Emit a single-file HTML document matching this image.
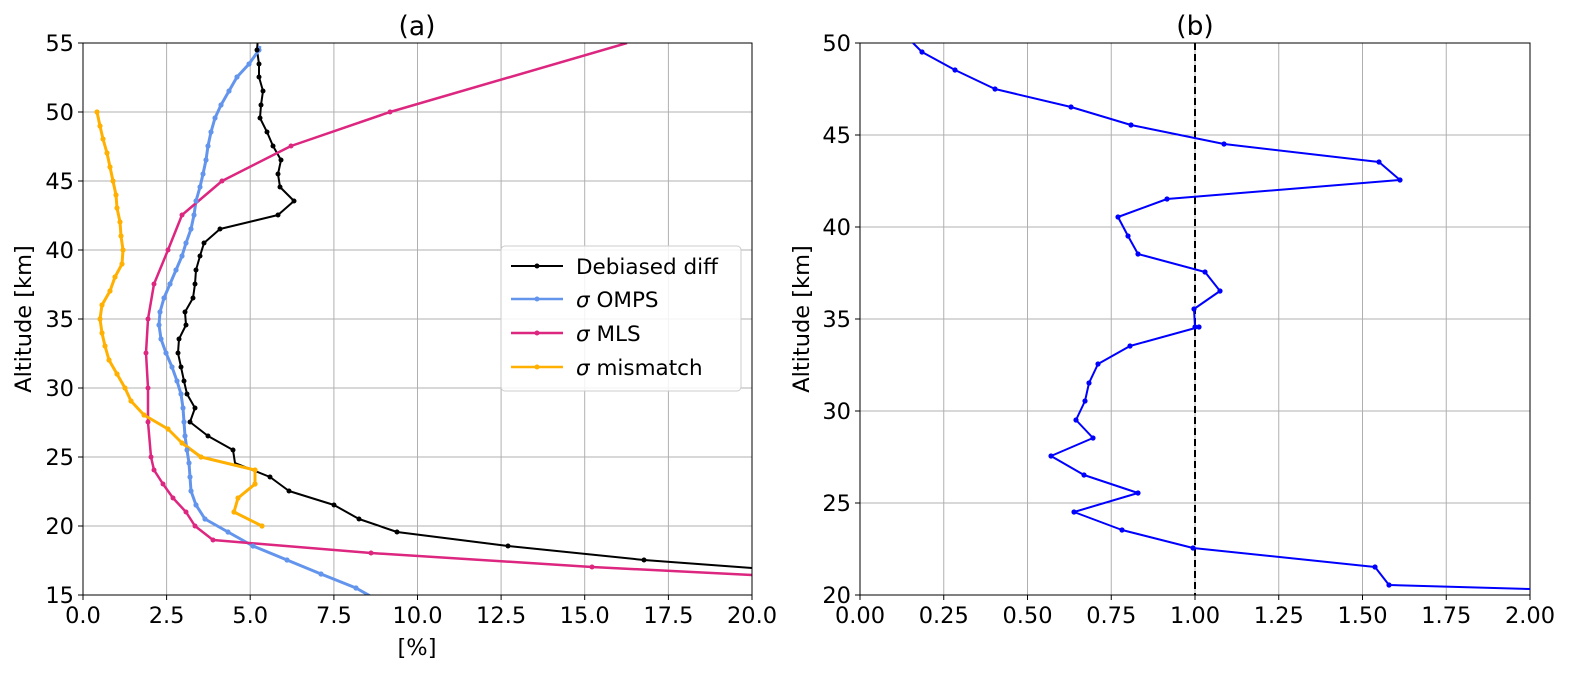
<!DOCTYPE html><html><head><style>html,body{margin:0;padding:0;background:#fff;overflow:hidden}svg{display:block}text{font-family:"DejaVu Sans","Liberation Sans",sans-serif;fill:#000}</style></head><body>
<svg width="1583" height="673" viewBox="0 0 1583 673">
<defs>
<clipPath id="ca"><rect x="83" y="43" width="669" height="552"/></clipPath>
<clipPath id="cb"><rect x="860" y="43" width="670" height="552"/></clipPath>
</defs>
<g stroke="#b0b0b0" stroke-width="1">
<line x1="83" y1="43" x2="83" y2="595"/><line x1="166.6" y1="43" x2="166.6" y2="595"/><line x1="250.2" y1="43" x2="250.2" y2="595"/><line x1="333.9" y1="43" x2="333.9" y2="595"/><line x1="417.5" y1="43" x2="417.5" y2="595"/><line x1="501.1" y1="43" x2="501.1" y2="595"/><line x1="584.7" y1="43" x2="584.7" y2="595"/><line x1="668.4" y1="43" x2="668.4" y2="595"/>
<line x1="83" y1="112" x2="752" y2="112"/><line x1="83" y1="181" x2="752" y2="181"/><line x1="83" y1="250" x2="752" y2="250"/><line x1="83" y1="319" x2="752" y2="319"/><line x1="83" y1="388" x2="752" y2="388"/><line x1="83" y1="457" x2="752" y2="457"/><line x1="83" y1="526" x2="752" y2="526"/>
<line x1="943.75" y1="43" x2="943.75" y2="595"/><line x1="1027.5" y1="43" x2="1027.5" y2="595"/><line x1="1111.25" y1="43" x2="1111.25" y2="595"/><line x1="1195" y1="43" x2="1195" y2="595"/><line x1="1278.75" y1="43" x2="1278.75" y2="595"/><line x1="1362.5" y1="43" x2="1362.5" y2="595"/><line x1="1446.25" y1="43" x2="1446.25" y2="595"/>
<line x1="860" y1="135" x2="1530" y2="135"/><line x1="860" y1="227" x2="1530" y2="227"/><line x1="860" y1="319" x2="1530" y2="319"/><line x1="860" y1="411" x2="1530" y2="411"/><line x1="860" y1="503" x2="1530" y2="503"/>
</g>
<g clip-path="url(#ca)" fill="none" stroke-linejoin="round">
<polyline stroke="#000" stroke-width="2" points="258,38 257,50 259,64 259,77 263,91 261,105 260,118 267,132 273,146 281,160 278,174 280,187 294,201 278,215 220,229 204,243 200,256 196,270 195,284 193,298 185,312 186,325 179,339 178,353 181,367 184,381 187,394 195,408 190,422 208,436 233,450 235,463 270,477 289,491 334,505 359,519 397,532 508,546 644,560 752,568"/>
<polyline stroke="#6495ed" stroke-width="3" points="260,46 259,50 249,64 237,77 229,91 221,105 215,118 211,132 208,146 206,160 203,174 200,187 196,201 194,215 191,229 186,243 182,256 176,270 170,284 164,298 160,312 159,325 161,339 166,353 172,367 177,381 181,394 183,408 184,422 185,436 187,450 189,463 190,477 191,491 196,505 205,519 228,532 253,546 287,560 321,574 356,588 372,597"/>
<polyline stroke="#dc267f" stroke-width="2.5" points="627,43 390,112 291,146 222,181 182,215 168,250 154,284 148,319 146,353 148,388 148,422 151,457 154,470 163,484 173,498 186,512 195,526 213,540 371,553 592,567 752,575"/>
<polyline stroke="#ffb000" stroke-width="3" points="97,112 100,126 103,139 107,153 110,167 113,181 116,195 117,208 120,222 121,236 123,250 122,264 115,277 110,291 102,305 100,319 102,333 105,346 109,360 117,374 125,388 131,401 144,415 168,429 182,443 201,457 255,470 255,484 238,498 234,512 262,526"/>
</g>
<g clip-path="url(#ca)">
<g fill="#6495ed"><circle cx="259" cy="50" r="2.6"/><circle cx="249" cy="64" r="2.6"/><circle cx="237" cy="77" r="2.6"/><circle cx="229" cy="91" r="2.6"/><circle cx="221" cy="105" r="2.6"/><circle cx="215" cy="118" r="2.6"/><circle cx="211" cy="132" r="2.6"/><circle cx="208" cy="146" r="2.6"/><circle cx="206" cy="160" r="2.6"/><circle cx="203" cy="174" r="2.6"/><circle cx="200" cy="187" r="2.6"/><circle cx="196" cy="201" r="2.6"/><circle cx="194" cy="215" r="2.6"/><circle cx="191" cy="229" r="2.6"/><circle cx="186" cy="243" r="2.6"/><circle cx="182" cy="256" r="2.6"/><circle cx="176" cy="270" r="2.6"/><circle cx="170" cy="284" r="2.6"/><circle cx="164" cy="298" r="2.6"/><circle cx="160" cy="312" r="2.6"/><circle cx="159" cy="325" r="2.6"/><circle cx="161" cy="339" r="2.6"/><circle cx="166" cy="353" r="2.6"/><circle cx="172" cy="367" r="2.6"/><circle cx="177" cy="381" r="2.6"/><circle cx="181" cy="394" r="2.6"/><circle cx="183" cy="408" r="2.6"/><circle cx="184" cy="422" r="2.6"/><circle cx="185" cy="436" r="2.6"/><circle cx="187" cy="450" r="2.6"/><circle cx="189" cy="463" r="2.6"/><circle cx="190" cy="477" r="2.6"/><circle cx="191" cy="491" r="2.6"/><circle cx="196" cy="505" r="2.6"/><circle cx="205" cy="519" r="2.6"/><circle cx="228" cy="532" r="2.6"/><circle cx="253" cy="546" r="2.6"/><circle cx="287" cy="560" r="2.6"/><circle cx="321" cy="574" r="2.6"/><circle cx="356" cy="588" r="2.6"/></g>
<g fill="#ffb000"><circle cx="97" cy="112" r="2.6"/><circle cx="100" cy="126" r="2.6"/><circle cx="103" cy="139" r="2.6"/><circle cx="107" cy="153" r="2.6"/><circle cx="110" cy="167" r="2.6"/><circle cx="113" cy="181" r="2.6"/><circle cx="116" cy="195" r="2.6"/><circle cx="117" cy="208" r="2.6"/><circle cx="120" cy="222" r="2.6"/><circle cx="121" cy="236" r="2.6"/><circle cx="123" cy="250" r="2.6"/><circle cx="122" cy="264" r="2.6"/><circle cx="115" cy="277" r="2.6"/><circle cx="110" cy="291" r="2.6"/><circle cx="102" cy="305" r="2.6"/><circle cx="100" cy="319" r="2.6"/><circle cx="102" cy="333" r="2.6"/><circle cx="105" cy="346" r="2.6"/><circle cx="109" cy="360" r="2.6"/><circle cx="117" cy="374" r="2.6"/><circle cx="125" cy="388" r="2.6"/><circle cx="131" cy="401" r="2.6"/><circle cx="144" cy="415" r="2.6"/><circle cx="168" cy="429" r="2.6"/><circle cx="182" cy="443" r="2.6"/><circle cx="201" cy="457" r="2.6"/><circle cx="255" cy="470" r="2.6"/><circle cx="255" cy="484" r="2.6"/><circle cx="238" cy="498" r="2.6"/><circle cx="234" cy="512" r="2.6"/><circle cx="262" cy="526" r="2.6"/></g>
<g fill="#000"><circle cx="257" cy="50" r="2.5"/><circle cx="259" cy="64" r="2.5"/><circle cx="259" cy="77" r="2.5"/><circle cx="263" cy="91" r="2.5"/><circle cx="261" cy="105" r="2.5"/><circle cx="260" cy="118" r="2.5"/><circle cx="267" cy="132" r="2.5"/><circle cx="273" cy="146" r="2.5"/><circle cx="281" cy="160" r="2.5"/><circle cx="278" cy="174" r="2.5"/><circle cx="280" cy="187" r="2.5"/><circle cx="294" cy="201" r="2.5"/><circle cx="278" cy="215" r="2.5"/><circle cx="220" cy="229" r="2.5"/><circle cx="204" cy="243" r="2.5"/><circle cx="200" cy="256" r="2.5"/><circle cx="196" cy="270" r="2.5"/><circle cx="195" cy="284" r="2.5"/><circle cx="193" cy="298" r="2.5"/><circle cx="185" cy="312" r="2.5"/><circle cx="186" cy="325" r="2.5"/><circle cx="179" cy="339" r="2.5"/><circle cx="178" cy="353" r="2.5"/><circle cx="181" cy="367" r="2.5"/><circle cx="184" cy="381" r="2.5"/><circle cx="187" cy="394" r="2.5"/><circle cx="195" cy="408" r="2.5"/><circle cx="190" cy="422" r="2.5"/><circle cx="208" cy="436" r="2.5"/><circle cx="233" cy="450" r="2.5"/><circle cx="270" cy="477" r="2.5"/><circle cx="289" cy="491" r="2.5"/><circle cx="334" cy="505" r="2.5"/><circle cx="359" cy="519" r="2.5"/><circle cx="397" cy="532" r="2.5"/><circle cx="508" cy="546" r="2.5"/><circle cx="644" cy="560" r="2.5"/></g>
<g fill="#dc267f"><circle cx="390" cy="112" r="2.5"/><circle cx="291" cy="146" r="2.5"/><circle cx="222" cy="181" r="2.5"/><circle cx="182" cy="215" r="2.5"/><circle cx="168" cy="250" r="2.5"/><circle cx="154" cy="284" r="2.5"/><circle cx="148" cy="319" r="2.5"/><circle cx="146" cy="353" r="2.5"/><circle cx="148" cy="388" r="2.5"/><circle cx="148" cy="422" r="2.5"/><circle cx="151" cy="457" r="2.5"/><circle cx="154" cy="470" r="2.5"/><circle cx="163" cy="484" r="2.5"/><circle cx="173" cy="498" r="2.5"/><circle cx="186" cy="512" r="2.5"/><circle cx="195" cy="526" r="2.5"/><circle cx="213" cy="540" r="2.5"/><circle cx="371" cy="553" r="2.5"/><circle cx="592" cy="567" r="2.5"/></g>
</g>
<g fill="none" stroke="#000" stroke-width="1">
<rect x="83" y="43" width="669" height="552"/><rect x="860" y="43" width="670" height="552"/>
</g>
<g stroke="#000" stroke-width="1">
<line x1="83" y1="595" x2="83" y2="600"/><line x1="166.6" y1="595" x2="166.6" y2="600"/><line x1="250.2" y1="595" x2="250.2" y2="600"/><line x1="333.9" y1="595" x2="333.9" y2="600"/><line x1="417.5" y1="595" x2="417.5" y2="600"/><line x1="501.1" y1="595" x2="501.1" y2="600"/><line x1="584.7" y1="595" x2="584.7" y2="600"/><line x1="668.4" y1="595" x2="668.4" y2="600"/><line x1="752" y1="595" x2="752" y2="600"/>
<line x1="78" y1="43" x2="83" y2="43"/><line x1="78" y1="112" x2="83" y2="112"/><line x1="78" y1="181" x2="83" y2="181"/><line x1="78" y1="250" x2="83" y2="250"/><line x1="78" y1="319" x2="83" y2="319"/><line x1="78" y1="388" x2="83" y2="388"/><line x1="78" y1="457" x2="83" y2="457"/><line x1="78" y1="526" x2="83" y2="526"/><line x1="78" y1="595" x2="83" y2="595"/>
</g>
<g font-size="22.5" text-anchor="middle">
<text x="83" y="623">0.0</text><text x="166.6" y="623">2.5</text><text x="250.2" y="623">5.0</text><text x="333.9" y="623">7.5</text><text x="417.5" y="623">10.0</text><text x="501.1" y="623">12.5</text><text x="584.7" y="623">15.0</text><text x="668.4" y="623">17.5</text><text x="752" y="623">20.0</text>
<text x="860" y="623">0.00</text><text x="943.75" y="623">0.25</text><text x="1027.5" y="623">0.50</text><text x="1111.25" y="623">0.75</text><text x="1195" y="623">1.00</text><text x="1278.75" y="623">1.25</text><text x="1362.5" y="623">1.50</text><text x="1446.25" y="623">1.75</text><text x="1530" y="623">2.00</text>
<text x="417" y="655">[%]</text>
<text x="417" y="35" font-size="26.5">(a)</text><text x="1195" y="35" font-size="26.5">(b)</text>
<text transform="translate(31,319) rotate(-90)">Altitude [km]</text>
<text transform="translate(809,319) rotate(-90)">Altitude [km]</text>
</g>
<g font-size="22.5" text-anchor="end">
<text x="74" y="51">55</text><text x="74" y="120">50</text><text x="74" y="189">45</text><text x="74" y="258">40</text><text x="74" y="327">35</text><text x="74" y="396">30</text><text x="74" y="465">25</text><text x="74" y="534">20</text><text x="74" y="603">15</text>
<text x="851" y="51">50</text><text x="851" y="143">45</text><text x="851" y="235">40</text><text x="851" y="327">35</text><text x="851" y="419">30</text><text x="851" y="511">25</text><text x="851" y="603">20</text>
</g>
<g stroke="#000" stroke-width="1">
<line x1="855" y1="43" x2="860" y2="43"/><line x1="855" y1="135" x2="860" y2="135"/><line x1="855" y1="227" x2="860" y2="227"/><line x1="855" y1="319" x2="860" y2="319"/><line x1="855" y1="411" x2="860" y2="411"/><line x1="855" y1="503" x2="860" y2="503"/><line x1="855" y1="595" x2="860" y2="595"/>
<line x1="860" y1="595" x2="860" y2="600"/><line x1="943.75" y1="595" x2="943.75" y2="600"/><line x1="1027.5" y1="595" x2="1027.5" y2="600"/><line x1="1111.25" y1="595" x2="1111.25" y2="600"/><line x1="1195" y1="595" x2="1195" y2="600"/><line x1="1278.75" y1="595" x2="1278.75" y2="600"/><line x1="1362.5" y1="595" x2="1362.5" y2="600"/><line x1="1446.25" y1="595" x2="1446.25" y2="600"/><line x1="1530" y1="595" x2="1530" y2="600"/>
</g>
<g clip-path="url(#cb)">
<line x1="1195" y1="43" x2="1195" y2="595" stroke="#000" stroke-width="2" stroke-dasharray="7,4"/>
<polyline fill="none" stroke="#0000ff" stroke-width="2" stroke-linejoin="round" points="913,43 922,52 955,70 995,89 1071,107 1131,125 1224,144 1379,162 1400,180 1167,199 1118,217 1128,236 1138,254 1205,272 1220,291 1194,309 1195,327 1199,327 1130,346 1098,364 1089,383 1085,401 1076,420 1093,438 1051,456 1084,475 1138,493 1074,512 1122,530 1193,548 1375,567 1389,585 1530,589"/>
<g fill="#0000ff"><circle cx="922" cy="52" r="2.6"/><circle cx="955" cy="70" r="2.6"/><circle cx="995" cy="89" r="2.6"/><circle cx="1071" cy="107" r="2.6"/><circle cx="1131" cy="125" r="2.6"/><circle cx="1224" cy="144" r="2.6"/><circle cx="1379" cy="162" r="2.6"/><circle cx="1400" cy="180" r="2.6"/><circle cx="1167" cy="199" r="2.6"/><circle cx="1118" cy="217" r="2.6"/><circle cx="1128" cy="236" r="2.6"/><circle cx="1138" cy="254" r="2.6"/><circle cx="1205" cy="272" r="2.6"/><circle cx="1220" cy="291" r="2.6"/><circle cx="1194" cy="309" r="2.6"/><circle cx="1195" cy="327" r="2.6"/><circle cx="1199" cy="327" r="2.6"/><circle cx="1130" cy="346" r="2.6"/><circle cx="1098" cy="364" r="2.6"/><circle cx="1089" cy="383" r="2.6"/><circle cx="1085" cy="401" r="2.6"/><circle cx="1076" cy="420" r="2.6"/><circle cx="1093" cy="438" r="2.6"/><circle cx="1051" cy="456" r="2.6"/><circle cx="1084" cy="475" r="2.6"/><circle cx="1138" cy="493" r="2.6"/><circle cx="1074" cy="512" r="2.6"/><circle cx="1122" cy="530" r="2.6"/><circle cx="1193" cy="548" r="2.6"/><circle cx="1375" cy="567" r="2.6"/><circle cx="1389" cy="585" r="2.6"/></g>
</g>
<rect x="501" y="246" width="240" height="145" rx="4" fill="#fff" fill-opacity="0.85" stroke="#ccc"/>
<g stroke-width="2.5">
<line x1="511" y1="266" x2="563" y2="266" stroke="#000" stroke-width="2"/><circle cx="537" cy="266" r="2.5" fill="#000"/>
<line x1="511" y1="299" x2="563" y2="299" stroke="#6495ed"/><circle cx="537" cy="299" r="2.5" fill="#6495ed"/>
<line x1="511" y1="333" x2="563" y2="333" stroke="#dc267f"/><circle cx="537" cy="333" r="2.5" fill="#dc267f"/>
<line x1="511" y1="367" x2="563" y2="367" stroke="#ffb000"/><circle cx="537" cy="367" r="2.5" fill="#ffb000"/>
</g>
<g font-size="21.5">
<text x="576" y="274">Debiased diff</text>
<text x="576" y="307"><tspan font-style="italic">σ</tspan> OMPS</text>
<text x="576" y="341"><tspan font-style="italic">σ</tspan> MLS</text>
<text x="576" y="375"><tspan font-style="italic">σ</tspan> mismatch</text>
</g>
</svg>
</body></html>
